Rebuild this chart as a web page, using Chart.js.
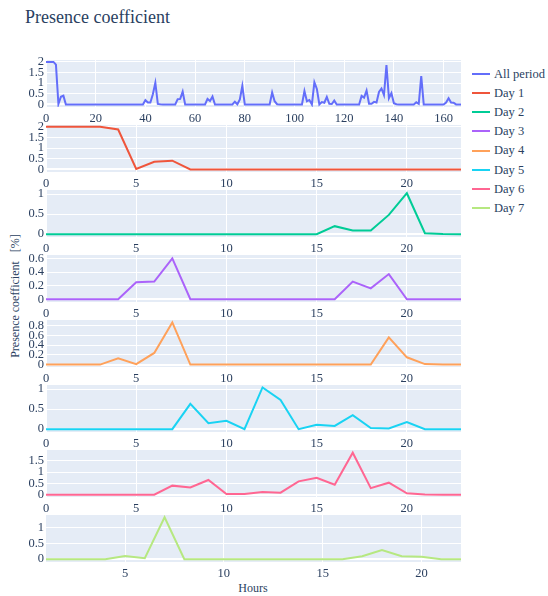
<!DOCTYPE html>
<html>
<head>
<meta charset="utf-8">
<script src="https://cdn.jsdelivr.net/npm/chart.js@4.4.1/dist/chart.umd.min.js"></script>
<style>
  body { margin: 0; background: #fff; width: 548px; height: 596px; position: relative; overflow: hidden;
         font-family: "Liberation Serif", "DejaVu Serif", serif; color: #2a3f5f; }
  canvas { position: absolute; left: 0; }
  #title { position: absolute; left: 25px; top: 8px; font-size: 18px; line-height: 1; }
  #ytitle { position: absolute; left: 15px; top: 296px; font-size: 12px; white-space: pre;
            transform: translate(-50%, -50%) rotate(-90deg); }
  #xtitle { position: absolute; left: 253px; top: 588px; font-size: 12px; transform: translate(-50%, -50%); }
  .leg { position: absolute; left: 472px; height: 16px; line-height: 16px; font-size: 12.5px; white-space: nowrap; }
  .leg span { display: inline-block; width: 18px; height: 2px; vertical-align: middle; margin-right: 4px; position: relative; top: -1px; }
</style>
</head>
<body>
<div id="title">Presence coefficient</div>
<div id="ytitle">Presence coefficient   [%]</div>
<div id="xtitle">Hours</div>
<div id="legend"></div>
<script>
// hourly presence coefficient per day
const hours = [0,1,2,3,4,5,6,7,8,9,10,11,12,13,14,15,16,17,18,19,20,21,22,23];
const day1 = [2,2,2,2,1.87,0.02,0.36,0.41,0,0,0,0,0,0,0,0,0,0,0,0,0,0,0,0];
const day2 = [0,0,0,0,0,0,0,0,0,0,0,0,0,0,0,0,0.2,0.09,0.09,0.48,1.02,0.025,0.005,0];
const day3 = [0,0,0,0,0,0.25,0.26,0.6,0,0,0,0,0,0,0,0,0,0.26,0.16,0.37,0,0,0,0];
const day4 = [0,0,0,0,0.13,0.01,0.24,0.87,0,0,0,0,0,0,0,0,0,0,0,0.56,0.15,0.01,0,0];
const day5 = [0,0,0,0,0,0,0,0,0.63,0.15,0.21,0,1.04,0.73,0,0.11,0.08,0.35,0.03,0.02,0.18,0,0,0];
const day6 = [0,0,0,0,0,0,0,0.4,0.32,0.65,0.03,0.03,0.12,0.09,0.59,0.75,0.44,1.85,0.29,0.53,0.06,0.01,0,0];
const day7 = [0,0,0,0,0,0.1,0.03,1.33,0,0,0,0,0,0,0,0,0,0.09,0.29,0.09,0.08,0,0,0];
// the whole week is the seven days one after another
const allPeriod = [...day1, ...day2, ...day3, ...day4, ...day5, ...day6, ...day7];
const allHours = allPeriod.map((v, i) => i);

const names = ['All period', 'Day 1', 'Day 2', 'Day 3', 'Day 4', 'Day 5', 'Day 6', 'Day 7'];
const colors = ['#636efa', '#ef553b', '#00cc96', '#ab63fa', '#ffa15a', '#19d3f3', '#ff6692', '#b6e880'];

const panels = [
  { labels: allHours, data: allPeriod, y: [-0.12, 2.09, 0.5], x: [0, 167, 20] },
  { labels: hours, data: day1, y: [-0.12, 2.08, 0.5], x: [0, 23, 5] },
  { labels: hours, data: day2, y: [-0.07, 1.1, 0.5], x: [0, 23, 5] },
  { labels: hours, data: day3, y: [-0.04, 0.65, 0.2], x: [0, 23, 5] },
  { labels: hours, data: day4, y: [-0.05, 0.92, 0.2], x: [0, 23, 5] },
  { labels: hours, data: day5, y: [-0.07, 1.1, 0.5], x: [0, 23, 5] },
  { labels: hours, data: day6, y: [-0.1, 1.97, 0.5], x: [0, 23, 5] },
  { labels: hours, data: day7, y: [-0.09, 1.4, 0.5], x: [1, 22, 5] }
];

const serif = 'Liberation Serif';
Chart.defaults.font.family = serif;
Chart.defaults.color = '#2a3f5f';

const plotBg = {
  id: 'plotBg',
  beforeDraw(chart) {
    const { ctx, chartArea: a } = chart;
    ctx.save();
    ctx.fillStyle = '#e5ecf6';
    ctx.fillRect(a.left, a.top, a.right - a.left, a.bottom - a.top);
    ctx.restore();
  }
};

const tickFont = { family: serif, size: 12.5 };
const gridOpts = {
  color: '#ffffff',
  lineWidth: c => (c.tick && c.tick.value === 0 ? 2 : 1),
  drawTicks: false
};

function drawPanels() {
  panels.forEach((p, i) => {
    const canvas = document.createElement('canvas');
    canvas.width = 470;
    canvas.height = 75;
    canvas.style.width = '470px';
    canvas.style.height = '75px';
    canvas.style.top = (60 + 65 * i - 8) + 'px';
    document.body.appendChild(canvas);

    new Chart(canvas, {
      type: 'line',
      data: {
        labels: p.labels,
        datasets: [{
          label: names[i],
          data: p.data,
          borderColor: colors[i],
          borderWidth: 2,
          pointRadius: 0,
          tension: 0
        }]
      },
      options: {
        responsive: false,
        animation: false,
        layout: { padding: { top: 8, right: 9, left: 0, bottom: 0 } },
        plugins: { legend: { display: false }, tooltip: { enabled: false } },
        scales: {
          x: {
            type: 'linear',
            min: p.x[0],
            max: p.x[1],
            border: { display: false },
            grid: gridOpts,
            ticks: { stepSize: p.x[2], includeBounds: false, autoSkip: false, maxRotation: 0,
                     color: '#2a3f5f', font: tickFont, padding: 4 },
            afterFit(s) { s.height = 20; s.paddingLeft = 0; s.paddingRight = 0; }
          },
          y: {
            min: p.y[0],
            max: p.y[1],
            border: { display: false },
            grid: gridOpts,
            ticks: { stepSize: p.y[2], includeBounds: false, autoSkip: false, color: '#2a3f5f',
                     font: tickFont, padding: 2, callback: v => String(+v.toFixed(2)) },
            afterFit(s) { s.width = 46; s.paddingTop = 0; s.paddingBottom = 0; }
          }
        }
      },
      plugins: [plotBg]
    });
  });
}

// legend on the right
const legend = document.getElementById('legend');
names.forEach((n, i) => {
  const d = document.createElement('div');
  d.className = 'leg';
  d.style.top = (74 + 19.1 * i - 8) + 'px';
  d.innerHTML = '<span style="background:' + colors[i] + '"></span>' + n;
  legend.appendChild(d);
});

// make sure the serif face is ready before the canvases draw text
document.fonts.load('12px "' + serif + '"').then(drawPanels, drawPanels);
</script>
</body>
</html>
